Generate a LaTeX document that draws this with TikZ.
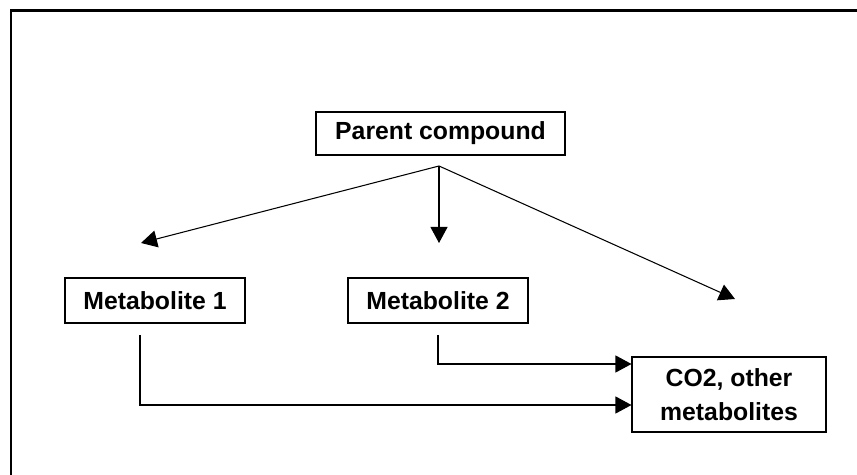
\documentclass[tikz,border=0pt]{standalone}
\usepackage{fontspec}
\setmainfont{Liberation Sans}
\usetikzlibrary{arrows.meta}

\begin{document}
\begin{tikzpicture}[x=0.02cm, y=-0.02cm,
    box/.style={draw, line width=0.6pt, inner sep=0pt, align=center,
                font=\bfseries\fontsize{14.1}{19.5}\selectfont},
    arr/.style={line width=0.6pt, -{Triangle[length=0.32cm, width=0.34cm]}}]
    \useasboundingbox (0,0) rectangle (857,475);

    \draw[line width=1.7pt] (857,11) -- (11,11) -- (11,475);

    \node[box, minimum width=249*0.02cm, minimum height=43*0.02cm] (parent) at (440.5,133.5) {Parent compound};
    \node[box, minimum width=180*0.02cm, minimum height=45*0.02cm] (meta1) at (155,300.5) {Metabolite 1};
    \node[box, minimum width=180*0.02cm, minimum height=45*0.02cm] (meta2) at (438,300.5) {Metabolite 2};
    \node[box, minimum width=194*0.02cm, minimum height=75*0.02cm] (co2) at (729,394.5) {CO2, other\\metabolites};

    \coordinate (split) at (439,166);
    \coordinate (tip1) at (141,243);
    \coordinate (tip2) at (439,243);
    \coordinate (tip3) at (735,299);

    \coordinate (m1out) at (140,335);
    \coordinate (m2out) at (438,335);


    \draw[arr] (split) -- (tip1);
    \draw[arr] (split) -- (tip2);
    \draw[arr] (split) -- (tip3);

    \draw[arr] (m2out) |- (co2.west |- 0,364);
    \draw[arr] (m1out) |- (co2.west |- 0,405);

%    \draw[arr] (meta1) -- (co2);
\end{tikzpicture}
\end{document}
